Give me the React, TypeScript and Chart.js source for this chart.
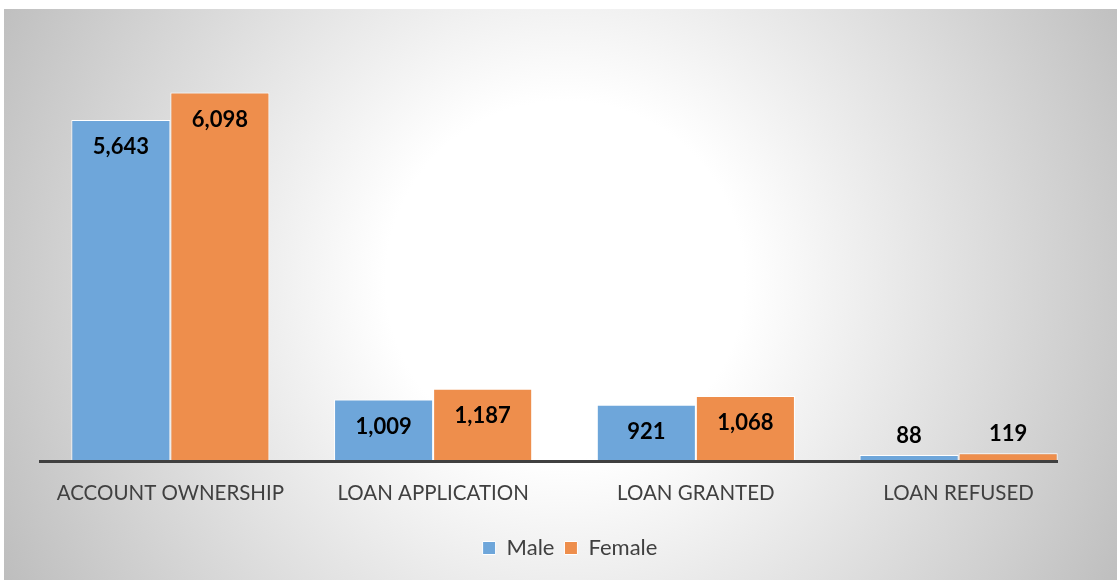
import React, { useEffect, useRef } from "react";
import { Chart, registerables } from "chart.js";

Chart.register(...registerables);

const categories = ["ACCOUNT OWNERSHIP", "LOAN APPLICATION", "LOAN GRANTED", "LOAN REFUSED"];
const maleValues = [5643, 1009, 921, 88];
const femaleValues = [6098, 1187, 1068, 119];
const seriesNames = ["Male", "Female"];

const FONT = "Lato, 'Open Sans', sans-serif";

const bgPlugin = {
  id: "bgPlugin",
  beforeDraw(chart: any) {
    const { ctx, width, height } = chart;
    ctx.save();
    ctx.fillStyle = "#ffffff";
    ctx.fillRect(0, 0, width, height);
    const g = ctx.createRadialGradient(565, 280, 0, 565, 280, 640);
    g.addColorStop(0, "#ffffff");
    g.addColorStop(0.28, "#ffffff");
    g.addColorStop(1, "#bdbdbd");
    ctx.fillStyle = g;
    ctx.fillRect(4, 9, width - 4, height - 9);
    ctx.restore();
  },
  afterDatasetsDraw(chart: any) {
    const { ctx } = chart;
    const y = chart.scales.y.getPixelForValue(0);
    ctx.save();
    ctx.strokeStyle = "#404040";
    ctx.lineWidth = 3;
    ctx.beginPath();
    ctx.moveTo(chart.chartArea.left, y + 1);
    ctx.lineTo(1058, y + 1);
    ctx.stroke();
    // data labels
    ctx.fillStyle = "#000000";
    ctx.font = `bold 22px ${FONT}`;
    ctx.textAlign = "center";
    ctx.textBaseline = "middle";
    chart.data.datasets.forEach((ds: any, i: number) => {
      const meta = chart.getDatasetMeta(i);
      meta.data.forEach((el: any, j: number) => {
        const v = ds.data[j];
        const h = el.base - el.y;
        const ty = h > 40 ? el.y + 27 : el.y - 19;
        ctx.fillText(v.toLocaleString("en-US"), el.x, ty);
      });
    });
    ctx.restore();
  },
};

export default function App() {
  const ref = useRef<HTMLCanvasElement | null>(null);
  useEffect(() => {
    document.body.style.margin = "0";
    const chart = new Chart(ref.current!, {
      type: "bar",
      data: {
        labels: categories,
        datasets: [
          {
            label: seriesNames[0],
            data: maleValues,
            backgroundColor: "#6ea6da",
            borderColor: "#ffffff",
            borderWidth: 1,
          },
          {
            label: seriesNames[1],
            data: femaleValues,
            backgroundColor: "#ee8e4c",
            borderColor: "#ffffff",
            borderWidth: 1,
          },
        ],
      },
      options: {
        animation: false,
        responsive: false,
        maintainAspectRatio: false,
        datasets: { bar: { categoryPercentage: 0.754, barPercentage: 1 } },
        layout: { padding: { left: 23, right: 0, top: 38, bottom: 11 } },
        scales: {
          x: {
            grid: { display: false, drawTicks: false },
            border: { display: false },
            ticks: { color: "#404040", font: { family: FONT, size: 20.5 }, padding: 21, maxRotation: 0 },
          },
          y: {
            min: 0,
            max: 7000,
            display: true,
            grid: { display: false, drawTicks: false },
            border: { display: false },
            ticks: { display: false },
            afterFit: (a: any) => { a.width = 16; },
          },
          y2: {
            position: "right",
            display: true,
            grid: { display: false, drawTicks: false },
            border: { display: false },
            ticks: { display: false },
            afterFit: (a: any) => { a.width = 27; },
          },
        },
        plugins: {
          legend: {
            position: "bottom",
            labels: {
              color: "#404040",
              font: { family: FONT, size: 22 },
              boxWidth: 13,
              boxHeight: 13,
              padding: 10,
            },
          },
          tooltip: { enabled: false },
        },
      },
      plugins: [bgPlugin],
    });
    return () => chart.destroy();
  }, []);
  return <canvas ref={ref} width={1117} height={580} style={{ display: "block" }} />;
}
